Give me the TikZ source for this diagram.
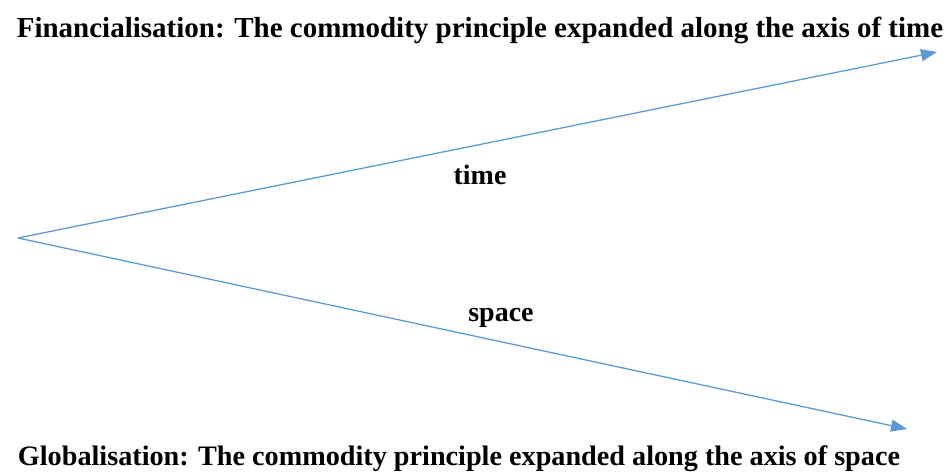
\documentclass[tikz,border=0pt]{standalone}
\usepackage{fontspec}
\setmainfont{Liberation Serif}
\usetikzlibrary{arrows.meta}
\definecolor{axisblue}{RGB}{91,155,213}
\tikzset{
  axis/.style={axisblue, line width=1.3pt, -{Triangle[length=16pt, width=12pt]}},
  heading/.style={font=\bfseries\fontsize{29}{33}\selectfont, inner sep=0pt, anchor=base},
  axislabel/.style={font=\bfseries\fontsize{28}{32}\selectfont, inner sep=0pt}
}
\begin{document}
\begin{tikzpicture}[x=1pt, y=-1pt]
	\useasboundingbox (0,0) rectangle (951,473);
	
	\coordinate (O) at (18,238);
	\coordinate (T) at (937,52);
	\coordinate (S) at (907,429);
	
	% Headings
	\node[heading] (fin) at (480,38) {Financialisation: The commodity principle expanded along the axis of time};
	\node[heading, font=\bfseries\fontsize{28.2}{32}\selectfont] (glob) at (459,465) {Globalisation: The commodity principle expanded along the axis of space};
	
	% Axes
	\draw[axis] (O) -- (T);
	\draw[axis] (O) -- (S);
	
	% Axis labels
	\node[axislabel] (time) at (480,175) {time};
	\node[axislabel] (space) at (501,318) {space};
	
\end{tikzpicture}
\end{document}
